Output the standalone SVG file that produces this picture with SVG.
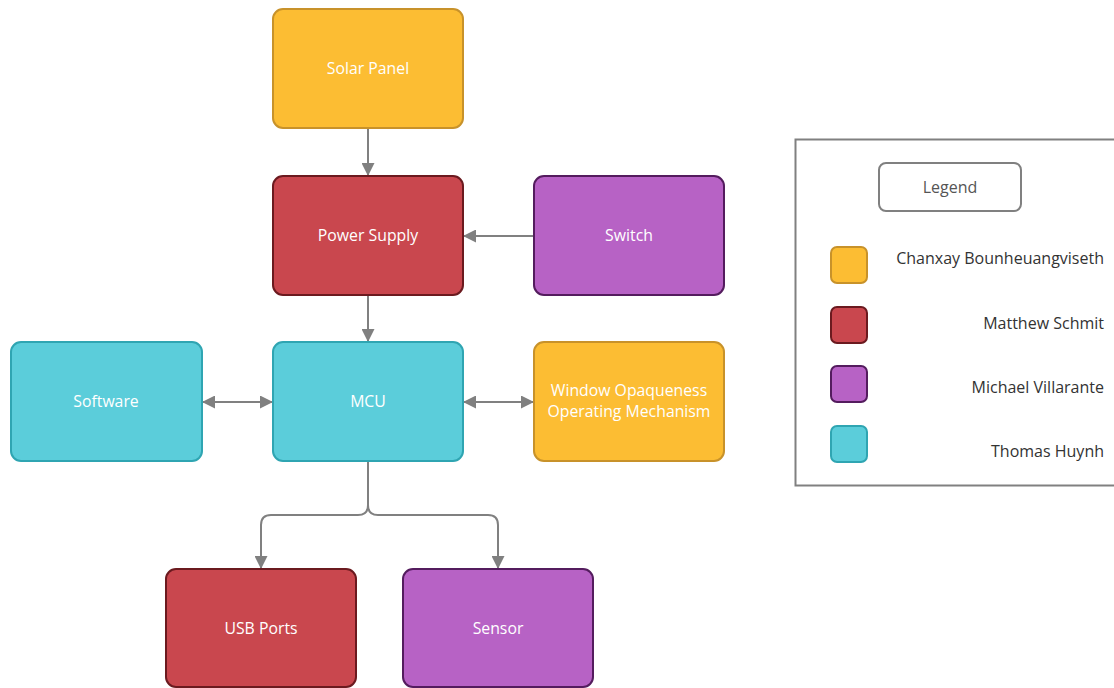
<svg xmlns="http://www.w3.org/2000/svg" width="1114" height="688" viewBox="0 0 1114 688">
<style>
.y{fill:#FCBD33;stroke:#C8922A;stroke-width:2}
.r{fill:#C9474E;stroke:#6B1A1F;stroke-width:2}
.p{fill:#B762C5;stroke:#541C5E;stroke-width:2}
.c{fill:#5BCDDA;stroke:#2FA5B2;stroke-width:2}
.lbl{font-family:"Open Sans","Noto Sans",sans-serif;font-size:15.8px;fill:#ffffff;text-anchor:middle;dominant-baseline:central}
.leg{font-family:"Open Sans","Noto Sans",sans-serif;font-size:16px;fill:#333333;text-anchor:end;dominant-baseline:central}
.e{fill:none;stroke:#808080;stroke-width:2}
</style>
<defs>
<marker id="ah" viewBox="0 0 10 10" refX="10" refY="5" markerWidth="13" markerHeight="13" markerUnits="userSpaceOnUse" orient="auto-start-reverse">
<path d="M0,0 L10,5 L0,10 z" fill="#808080"/>
</marker>
</defs>
<rect width="1114" height="688" fill="#ffffff"/>
<g id="connectors">
<path class="e" d="M368,128 V176" marker-end="url(#ah)"/>
<path class="e" d="M534,236 H463" marker-end="url(#ah)"/>
<path class="e" d="M368,295 V342" marker-end="url(#ah)"/>
<path class="e" d="M202,402 H273" marker-start="url(#ah)" marker-end="url(#ah)"/>
<path class="e" d="M463,402 H534" marker-start="url(#ah)" marker-end="url(#ah)"/>
<path class="e" d="M368,461 V505 Q368,515 358,515 H271 Q261,515 261,525 V569" marker-end="url(#ah)"/>
<path class="e" d="M368,505 Q368,515 378,515 H488 Q498,515 498,525 V569" marker-end="url(#ah)"/>
</g>
<g id="solar-panel"><rect class="y" x="273" y="9" width="190" height="119" rx="10"/><text class="lbl" x="368" y="68">Solar Panel</text></g>
<g id="power-supply"><rect class="r" x="273" y="176" width="190" height="119" rx="10"/><text class="lbl" x="368" y="235">Power Supply</text></g>
<g id="switch"><rect class="p" x="534" y="176" width="190" height="119" rx="10"/><text class="lbl" x="629" y="235">Switch</text></g>
<g id="software"><rect class="c" x="11" y="342" width="191" height="119" rx="10"/><text class="lbl" x="106" y="401">Software</text></g>
<g id="mcu"><rect class="c" x="273" y="342" width="190" height="119" rx="10"/><text class="lbl" x="368" y="401">MCU</text></g>
<g id="window"><rect class="y" x="534" y="342" width="190" height="119" rx="10"/><text class="lbl" x="629" y="390">Window Opaqueness</text><text class="lbl" x="629" y="411">Operating Mechanism</text></g>
<g id="usb-ports"><rect class="r" x="166" y="569" width="190" height="118" rx="10"/><text class="lbl" x="261" y="628">USB Ports</text></g>
<g id="sensor"><rect class="p" x="403" y="569" width="190" height="118" rx="10"/><text class="lbl" x="498" y="628">Sensor</text></g>
<g id="legend">
<rect x="795.5" y="139.5" width="330" height="346" fill="#ffffff" stroke="#808080" stroke-width="2"/>
<rect x="879" y="163" width="142" height="48" rx="7" fill="#ffffff" stroke="#808080" stroke-width="2"/>
<text x="950" y="187" font-family="Open Sans, Noto Sans, sans-serif" font-size="16" fill="#555555" text-anchor="middle" dominant-baseline="central">Legend</text>
<rect class="y" x="831" y="247" width="36" height="36" rx="6"/>
<rect class="r" x="831" y="307" width="36" height="36" rx="6"/>
<rect class="p" x="831" y="366" width="36" height="36" rx="6"/>
<rect class="c" x="831" y="426" width="36" height="36" rx="6"/>
<text class="leg" x="1104" y="258">Chanxay Bounheuangviseth</text>
<text class="leg" x="1104" y="323">Matthew Schmit</text>
<text class="leg" x="1104" y="387">Michael Villarante</text>
<text class="leg" x="1104" y="451">Thomas Huynh</text>
</g>
</svg>
